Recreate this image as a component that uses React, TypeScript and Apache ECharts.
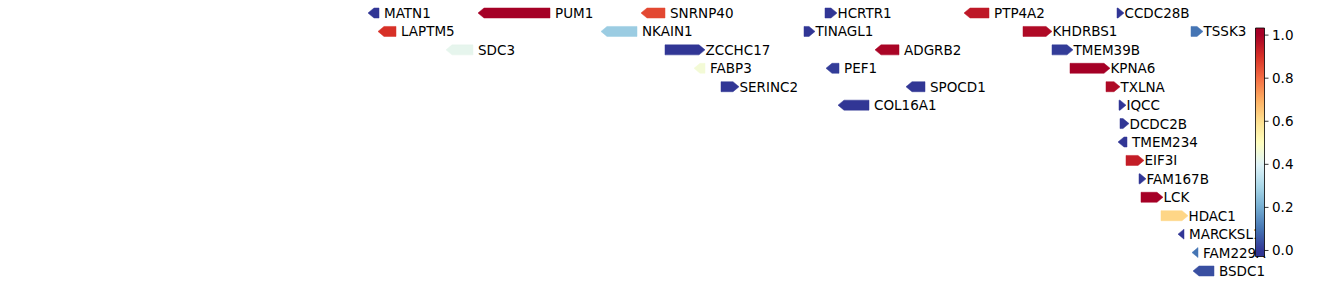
import React, { useEffect, useRef } from "react";
import * as echarts from "echarts";

// gene track data (positions in track units, rows top->bottom)
const geneNames = ["MATN1","PUM1","SNRNP40","HCRTR1","PTP4A2","CCDC28B","LAPTM5","NKAIN1","TINAGL1","KHDRBS1","TSSK3","SDC3","ZCCHC17","ADGRB2","TMEM39B","FABP3","PEF1","KPNA6","SERINC2","SPOCD1","TXLNA","COL16A1","IQCC","DCDC2B","TMEM234","EIF3I","FAM167B","LCK","HDAC1","MARCKSL1","FAM229A","BSDC1"];
const geneStarts = [368,478,641,825,964,1117,378,601,804,1023,1191,446,665,875,1052,694,826,1070,721,906,1106,838,1119,1120,1118,1126,1139,1141,1161,1178,1192,1193];
const geneEnds = [379,550,665,837,989,1124,396,637,815,1052,1203,473,705,899,1073,705,839,1110,739,925,1120,869,1126,1129,1127,1144,1146,1163,1188,1184,1198,1214];
const geneStrands = [-1,-1,-1,1,-1,1,-1,-1,1,1,1,-1,1,-1,1,-1,-1,1,1,-1,1,-1,1,1,-1,1,1,1,1,-1,-1,-1];
const geneRows = [0,0,0,0,0,0,1,1,1,1,1,2,2,2,2,3,3,3,4,4,4,5,5,6,7,8,9,10,11,12,13,14];
const geneValues = [0.0,1.0,0.86,0.0,0.95,0.0,0.9,0.27,0.0,0.98,0.1,0.42,0.0,0.99,0.01,0.46,0.01,1.0,0.0,0.0,0.98,0.0,0.0,0.0,0.0,0.94,0.0,1.0,0.62,0.0,0.1,0.04];

const colorbarTicks = [0.0, 0.2, 0.4, 0.6, 0.8, 1.0];
const colorbarMin = -0.028;
const colorbarMax = 1.033;

// RdYlBu_r
const cmapStops = ["#313695","#4575b4","#74add1","#abd9e9","#e0f3f8","#ffffbf","#fee090","#fdae61","#f46d43","#d73027","#a50026"];

function hexToRgb(h: string) {
  return [parseInt(h.slice(1, 3), 16), parseInt(h.slice(3, 5), 16), parseInt(h.slice(5, 7), 16)];
}
function cmap(v: number) {
  const t = Math.max(0, Math.min(1, v)) * (cmapStops.length - 1);
  const i = Math.min(cmapStops.length - 2, Math.floor(t));
  const f = t - i;
  const a = hexToRgb(cmapStops[i]);
  const b = hexToRgb(cmapStops[i + 1]);
  const c = a.map((x, k) => Math.round(x + (b[k] - x) * f));
  return `rgb(${c[0]},${c[1]},${c[2]})`;
}

const FONT = "DejaVu Sans";
const FS = 13.5;

export default function App() {
  const ref = useRef<HTMLDivElement>(null);
  useEffect(() => {
    document.body.style.margin = "0";
    const chart = echarts.init(ref.current!, null, { renderer: "svg" });
    const data = geneNames.map((n, i) => [geneStarts[i], geneEnds[i], geneRows[i], geneStrands[i], geneValues[i], n]);

    // colorbar geometry
    const cbX = 1255.5, cbW = 9, cbTop = 28, cbBot = 256.5;
    const cbY = (v: number) => cbBot - ((v - colorbarMin) / (colorbarMax - colorbarMin)) * (cbBot - cbTop);
    const gradStops: any[] = [];
    for (let k = 0; k <= 40; k++) {
      const off = k / 40;
      const v = colorbarMax - off * (colorbarMax - colorbarMin);
      gradStops.push({ offset: off, color: cmap(v) });
    }
    const graphics: any[] = [
      {
        type: "rect", z: 100,
        shape: { x: cbX, y: cbTop, width: cbW, height: cbBot - cbTop },
        style: { fill: new echarts.graphic.LinearGradient(0, 0, 0, 1, gradStops), stroke: "#000", lineWidth: 0.8 },
      },
    ];
    colorbarTicks.forEach((t) => {
      const y = cbY(t);
      graphics.push({
        type: "line", z: 100,
        shape: { x1: cbX + cbW, y1: y, x2: cbX + cbW + 4, y2: y },
        style: { stroke: "#000", lineWidth: 0.8 },
      });
      graphics.push({
        type: "text", z: 100, x: cbX + cbW + 7.5, y: y,
        style: { text: t.toFixed(1), fontFamily: FONT, fontSize: FS, fill: "#000", verticalAlign: "middle", align: "left" },
      });
    });

    chart.setOption({
      animation: false,
      grid: { left: 360, right: 68, top: 3.8, bottom: 4.8 },
      xAxis: { type: "value", min: 360, max: 1270, show: false },
      yAxis: { type: "value", min: -0.5, max: 14.5, inverse: true, show: false },
      series: [
        {
          type: "custom",
          data,
          renderItem: (params: any, api: any) => {
            const s = api.value(0), e = api.value(1), row = api.value(2), strand = api.value(3), v = api.value(4);
            const name = geneNames[params.dataIndex];
            const p0 = api.coord([s, row]);
            const p1 = api.coord([e, row]);
            const x0 = p0[0], x1 = p1[0], y = p0[1];
            const h = 10;
            const w = x1 - x0;
            const head = Math.min(6, w);
            let pts: number[][];
            if (strand > 0) {
              pts = [[x0, y - h / 2], [x1 - head, y - h / 2], [x1, y], [x1 - head, y + h / 2], [x0, y + h / 2]];
            } else {
              pts = [[x1, y - h / 2], [x0 + head, y - h / 2], [x0, y], [x0 + head, y + h / 2], [x1, y + h / 2]];
            }
            return {
              type: "group",
              children: [
                { type: "polygon", shape: { points: pts }, style: { fill: cmap(v), stroke: cmap(v), lineWidth: 0.5 } },
                {
                  type: "text", x: x1 + (strand > 0 ? 0.5 : 5), y: y,
                  style: { text: name, fontFamily: FONT, fontSize: FS, fill: "#000", verticalAlign: "middle", align: "left" },
                },
              ],
            };
          },
        },
      ],
      graphic: graphics,
    });
    return () => chart.dispose();
  }, []);
  return <div ref={ref} style={{ width: 1338, height: 285 }} />;
}
